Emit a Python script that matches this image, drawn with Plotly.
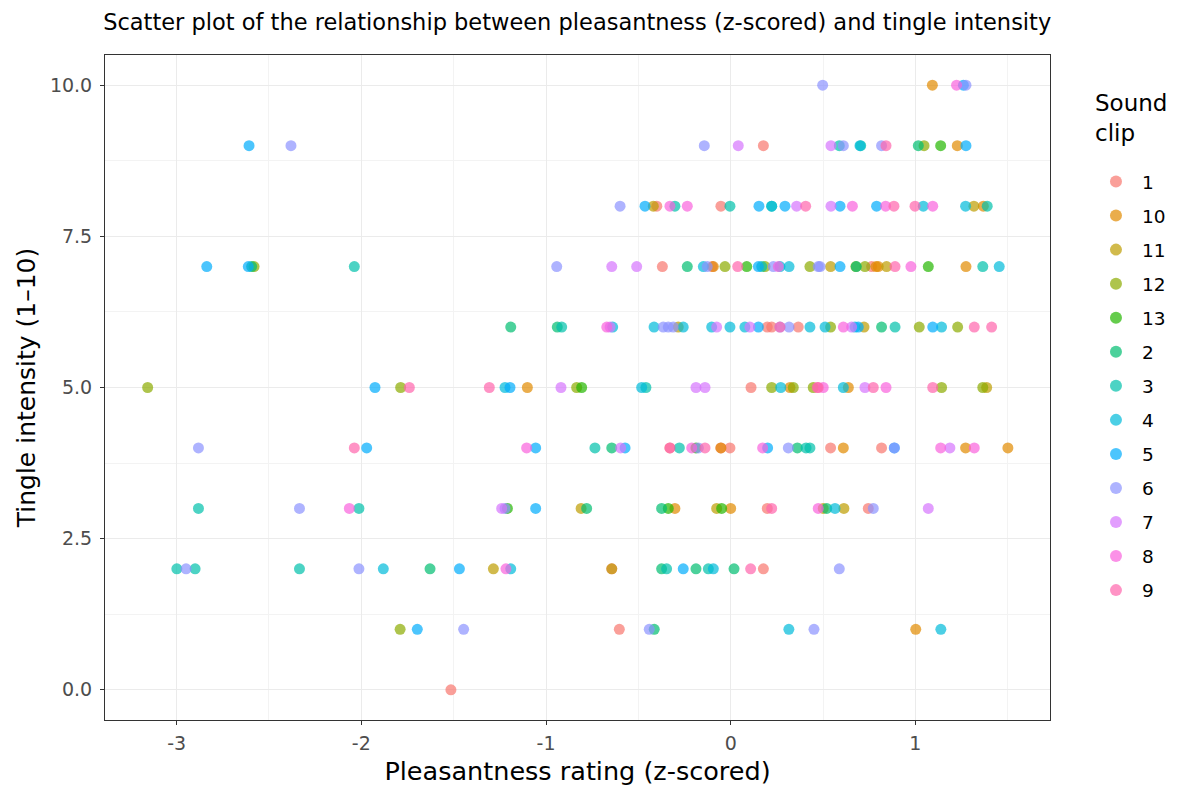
import plotly.graph_objects as go

# Sound clip labels, in legend (alphabetical) order
clips = ["1", "10", "11", "12", "13", "2", "3", "4", "5", "6", "7", "8", "9"]
clip_colors = ["#F8766D", "#E18A00", "#BE9C00", "#8CAB00", "#24B700", "#00BE70",
               "#00C1AB", "#00BBDA", "#00ACFC", "#8B93FF", "#D575FE", "#F962DD", "#FF65AC"]

# Pleasantness (z-scored) and tingle intensity for each clip
clip1_x = [0.177, -0.40, -0.053, -0.370, -0.10, 0.763, 0.198, 0.222, 0.366, 0.110,
           -0.329, -0.053, -0.004, 0.541, 0.817, 0.198, 0.745, -0.644, 0.177, -0.603, -1.515]
clip1_y = [9, 8, 8, 7, 7, 7, 6, 6, 6, 5, 4, 4, 4, 4, 4, 3, 3, 2, 2, 1, 0]

clip10_x = [1.092, 1.227, 1.368, -0.094, 0.787, 0.799, 1.274, -1.101, 0.321, 0.637,
            -0.053, 0.610, 1.272, 1.501, -0.302, 0.000, 1.002]
clip10_y = [10, 9, 8, 7, 7, 7, 7, 5, 5, 5, 4, 4, 4, 4, 3, 3, 1]

clip11_x = [-0.419, 1.317, 0.541, 0.844, -0.284, 0.722, 1.386, -0.810, -0.076, 0.501,
            0.613, -1.285, -0.644]
clip11_y = [8, 8, 7, 7, 6, 6, 5, 3, 3, 3, 3, 2, 2]

clip12_x = [1.047, -2.581, -0.031, 0.186, 0.429, 0.727, 0.678, 0.541, 1.021, 1.229,
            -3.157, -1.787, -0.834, 0.222, 0.339, 0.447, 1.142, 1.365, -1.790]
clip12_y = [9, 7, 7, 7, 7, 7, 7, 6, 6, 6, 5, 5, 5, 5, 5, 5, 5, 5, 1]

clip13_x = [1.137, 0.087, 1.070, -0.807, -0.188, -1.209, -0.338, -0.049]
clip13_y = [9, 7, 7, 5, 4, 3, 3, 3]

clip2_x = [1.016, -2.594, -0.235, 0.680, -1.191, -0.939, 0.817, -0.644, 0.361,
           -0.780, -0.374, 0.520, -1.628, -0.374, -0.188, 0.018, -0.414]
clip2_y = [9, 7, 7, 7, 6, 6, 6, 4, 4, 3, 3, 3, 2, 2, 2, 2, 1]

clip3_x = [0.588, 0.704, -0.302, -0.004, 0.222, 1.389, -2.038, 0.168, 1.365, -0.915,
           0.890, -0.459, -0.735, -0.278, 0.408, 0.429, -2.882, -2.013, -2.999,
           -2.900, -2.335, -0.347, -0.121]
clip3_y = [9, 9, 8, 8, 8, 8, 7, 7, 7, 6, 6, 5, 4, 4, 4, 4, 3, 3, 2, 2, 2, 2, 2]

clip4_x = [0.700, 0.222, 1.043, 1.272, -0.148, 0.267, 0.316, 1.454, -0.639, -0.415,
           -0.257, -0.103, -0.004, 0.077, 0.429, 0.511, 0.673, 1.142, -1.222, -0.482,
           0.271, 0.610, 0.565, -1.191, -0.094, -1.881, 0.315, 1.138]
clip4_y = [9, 8, 8, 8, 7, 7, 7, 7, 6, 6, 6, 6, 6, 6, 6, 6, 6, 6, 5, 5, 5, 5, 3,
           2, 2, 2, 1, 1]

clip5_x = [1.260, -2.608, 1.274, -0.464, 0.153, 0.294, 0.592, 0.790, -2.837, -2.612,
           0.150, 0.592, 0.150, 0.691, 1.094, -1.926, -1.195, -1.971, -1.056, -0.572,
           0.200, 0.886, -1.056, -1.469, -0.257, -1.697]
clip5_y = [10, 9, 9, 8, 8, 8, 8, 8, 7, 7, 7, 7, 6, 6, 6, 5, 5, 4, 4, 4, 4, 4, 3,
           2, 2, 1]

clip6_x = [0.498, 1.274, -2.381, -0.143, 0.610, 0.817, -0.599, -0.942, -0.127, 0.231,
           0.474, 0.484, -0.365, -0.338, -0.311, 0.267, 0.316, -2.882, -0.175, 0.312,
           0.886, -2.335, -1.222, 0.772, -2.949, -2.013, 0.588, -1.446, -0.441, 0.451]
clip6_y = [10, 10, 9, 9, 9, 9, 8, 7, 7, 7, 7, 7, 6, 6, 6, 6, 6, 4, 4, 4, 4, 3, 3, 3,
           2, 2, 2, 1, 1, 1]

clip7_x = [0.041, 0.543, 0.357, 0.543, -0.644, -0.509, -0.653, -0.076, 0.104, 0.655,
           -0.919, -0.188, -0.139, 0.727, -0.596, 1.187, -1.240, 1.070]
clip7_y = [9, 9, 8, 8, 7, 7, 6, 6, 6, 6, 5, 5, 5, 5, 4, 4, 3, 3]

clip8_x = [1.223, -0.329, -0.235, 0.659, 0.839, 1.094, 0.258, 0.976, -0.671, 0.610,
           0.841, 0.501, -1.105, -0.211, 0.173, 1.137, 1.319, -2.065, 0.474, -1.217]
clip8_y = [10, 8, 8, 8, 8, 8, 7, 7, 6, 6, 5, 5, 4, 4, 4, 4, 4, 3, 3, 2]

clip9_x = [0.841, 0.406, 0.884, 0.998, 0.038, 0.890, 1.319, 1.413, 0.267, -1.740,
           -1.307, 0.469, 0.474, 0.772, 1.094, -2.038, -0.329, -0.139, 0.222, 0.108]
clip9_y = [9, 8, 8, 8, 7, 7, 6, 6, 6, 5, 5, 5, 5, 5, 5, 4, 4, 4, 3, 2]

clip_points = {
    "1": (clip1_x, clip1_y), "10": (clip10_x, clip10_y), "11": (clip11_x, clip11_y),
    "12": (clip12_x, clip12_y), "13": (clip13_x, clip13_y), "2": (clip2_x, clip2_y),
    "3": (clip3_x, clip3_y), "4": (clip4_x, clip4_y), "5": (clip5_x, clip5_y),
    "6": (clip6_x, clip6_y), "7": (clip7_x, clip7_y), "8": (clip8_x, clip8_y),
    "9": (clip9_x, clip9_y),
}

x_ticks = [-3, -2, -1, 0, 1]
x_tick_text = ["-3", "-2", "-1", "0", "1"]
y_ticks = [0, 2.5, 5, 7.5, 10]
y_tick_text = ["0.0", "2.5", "5.0", "7.5", "10.0"]

FONT = "DejaVu Sans, Verdana, sans-serif"

fig = go.Figure()
for name, color in zip(clips, clip_colors):
    xs, ys = clip_points[name]
    fig.add_trace(go.Scatter(
        x=xs, y=ys, mode="markers", name=name, legendgroup=name,
        marker=dict(color=color, size=11, opacity=0.7, line=dict(width=0)),
    ))

axis_common = dict(
    showline=True, linecolor="#333333", linewidth=1, mirror=True,
    ticks="outside", ticklen=4, tickcolor="#333333", tickwidth=1,
    gridcolor="#EBEBEB", gridwidth=1.2, zeroline=False, automargin=False,
    tickfont=dict(family=FONT, size=19, color="#4D4D4D"),
    minor=dict(showgrid=True, gridcolor="#F3F3F3", gridwidth=0.8),
)

fig.update_layout(
    width=1184, height=791,
    margin=dict(l=105, r=134, t=55, b=71),
    paper_bgcolor="white", plot_bgcolor="white",
    font=dict(family=FONT, color="black"),
    title=dict(
        text="Scatter plot of the relationship between pleasantness (z-scored) and tingle intensity",
        x=0.4875, xanchor="center", y=0.972, yanchor="middle",
        font=dict(family=FONT, size=22.5, color="black"),
    ),
    xaxis=dict(
        range=[-3.388, 1.729], tickvals=x_ticks, ticktext=x_tick_text,
        ticklabelstandoff=2,
        title=dict(text="Pleasantness rating (z-scored)", standoff=9,
                   font=dict(family=FONT, size=25.5, color="black")),
        **axis_common,
    ),
    yaxis=dict(
        range=[-0.5, 10.5], tickvals=y_ticks, ticktext=y_tick_text,
        ticklabelstandoff=4,
        title=dict(text="Tingle intensity (1\u201310)", standoff=7,
                   font=dict(family=FONT, size=25, color="black")),
        **axis_common,
    ),
    legend=dict(
        font=dict(family=FONT, size=18.5, color="black"),
        x=1.0423, xanchor="left", y=0.8376, yanchor="top",
        tracegroupgap=7, itemsizing="constant", itemwidth=42,
        bgcolor="rgba(0,0,0,0)",
    ),
    annotations=[dict(
        text="Sound<br>clip", xref="paper", yref="paper",
        x=1.0455, y=0.9504, xanchor="left", yanchor="top", align="left",
        showarrow=False, font=dict(family=FONT, size=23, color="black"),
    )],
)
fig.update_xaxes(minor=dict(tickvals=[-2.5, -1.5, -0.5, 0.5, 1.5]))
fig.update_yaxes(minor=dict(tickvals=[1.25, 3.75, 6.25, 8.75]))

fig.write_html("out.html")
